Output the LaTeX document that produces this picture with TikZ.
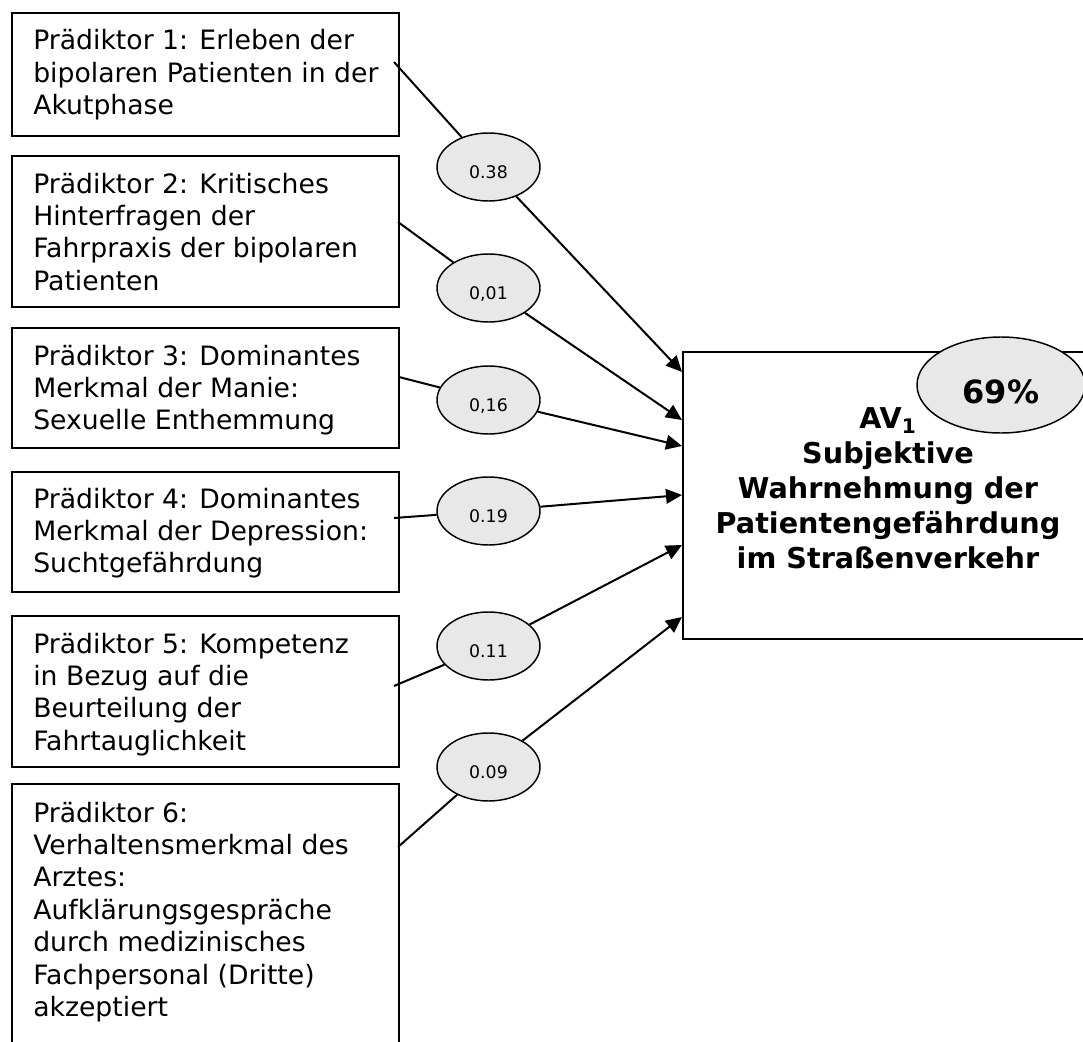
\documentclass[tikz,border=0pt]{standalone}
\usepackage{fontspec}
\setmainfont{DejaVu Sans}
\usetikzlibrary{shapes.geometric,arrows.meta}
\definecolor{ovalfill}{RGB}{232,232,232}
\newcommand{\predlines}[1]{\parbox[t]{330pt}{\fontsize{20}{24.3}\selectfont #1}}
\begin{document}
\begin{tikzpicture}[x=0.75pt,y=-0.75pt,
  predbox/.style={draw,line width=1.5pt,rectangle,anchor=north west,minimum width=290.25pt,inner sep=0pt},
  predtext/.style={anchor=base west,inner sep=0pt},
  coef/.style={ellipse,draw,line width=1.1pt,fill=ovalfill,minimum width=77.25pt,minimum height=51pt,inner sep=0pt,
    font=\fontsize{13}{15}\selectfont,text height=17pt,text depth=0pt},
  link/.style={line width=1.5pt},
  pfeil/.style={line width=1.5pt,-{Triangle[length=12pt,width=11pt]}}
]
\path[use as bounding box] (0,0) rectangle (1083,1042);
\clip (0,0) rectangle (1083,1042);

% predictor boxes
\node[predbox,minimum height=92.25pt] (b1) at (11,12) {};
\node[predbox,minimum height=113.25pt] (b2) at (11,155) {};
\node[predbox,minimum height=90pt] (b3) at (11,327) {};
\node[predbox,minimum height=90pt] (b4) at (11,471) {};
\node[predbox,minimum height=113.25pt] (b5) at (11,615) {};
\node[predbox,minimum height=207.75pt] (b6) at (11,783) {};

\node[predtext] (p1) at (33,50) {\predlines{Prädiktor 1: Erleben der\\bipolaren Patienten in der\\Akutphase}};
\node[predtext] (p2) at (33,193) {\predlines{Prädiktor 2: Kritisches\\Hinterfragen der\\Fahrpraxis der bipolaren\\Patienten}};
\node[predtext] (p3) at (33,365) {\predlines{Prädiktor 3: Dominantes\\Merkmal der Manie:\\Sexuelle Enthemmung}};
\node[predtext] (p4) at (33,508) {\predlines{Prädiktor 4: Dominantes\\Merkmal der Depression:\\Suchtgefährdung}};
\node[predtext] (p5) at (33,653) {\predlines{Prädiktor 5: Kompetenz\\in Bezug auf die\\Beurteilung der\\Fahrtauglichkeit}};
\node[predtext] (p6) at (33,822) {\predlines{Prädiktor 6:\\Verhaltensmerkmal des\\Arztes:\\Aufklärungsgespräche\\durch medizinisches\\Fachpersonal (Dritte)\\akzeptiert}};

% outcome box
\node[draw,line width=1.5pt,rectangle,anchor=north west,minimum width=313.5pt,minimum height=215.25pt,inner sep=0pt] (av) at (682,351) {};
\node[anchor=base,inner sep=0pt] (avtext) at (888,428) {\parbox[t]{320pt}{\centering\fontsize{21.5}{26.25}\selectfont\bfseries
  AV\textsubscript{1}\\Subjektive\\Wahrnehmung der\\Patientengefährdung\\im Straßenverkehr}};
\node[ellipse,draw,line width=1.1pt,fill=ovalfill,minimum width=126pt,minimum height=72pt,inner sep=0pt,
  font=\fontsize{24}{28}\selectfont\bfseries,text height=28pt,text depth=0pt] (rsq) at (1001,385) {69\%};

% path coefficients
\node[coef] (c1) at (488.5,167) {0.38};
\node[coef] (c2) at (488.5,288) {0,01};
\node[coef] (c3) at (488.5,400) {0,16};
\node[coef] (c4) at (488.5,511) {0.19};
\node[coef] (c5) at (488.5,646) {0.11};
\node[coef] (c6) at (488.5,767) {0.09};

% connector ends
\coordinate (s1) at (394,62);
\coordinate (s2) at (398,222);
\coordinate (s3) at (399,377);
\coordinate (s4) at (394,518);
\coordinate (s5) at (394,686);
\coordinate (s6) at (398,847);
\coordinate (t1) at (682,372);
\coordinate (t2) at (682,420);
\coordinate (t3) at (682,446);
\coordinate (t4) at (682,495);
\coordinate (t5) at (682,545);
\coordinate (t6) at (682,617);

\foreach \i in {1,...,6}{
  \draw[link] (s\i) -- (c\i);
  \draw[pfeil] (c\i) -- (t\i);
}
\end{tikzpicture}
\end{document}
